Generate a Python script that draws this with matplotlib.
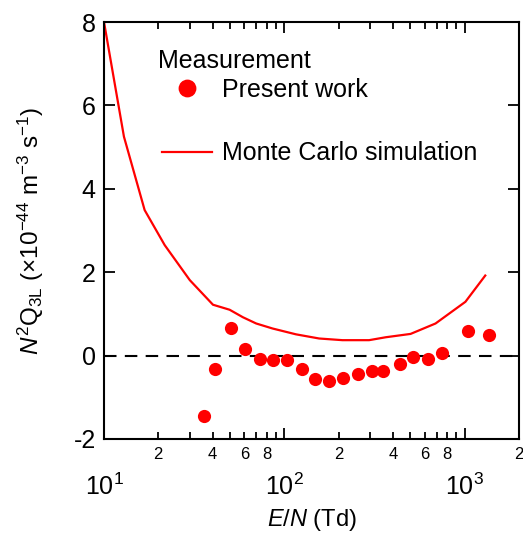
import numpy as np
import matplotlib
matplotlib.use("Agg")
import matplotlib.pyplot as plt
from matplotlib.ticker import FixedLocator, FixedFormatter, LogLocator, NullFormatter

plt.rcParams['font.family'] = ['Liberation Sans', 'DejaVu Sans']
plt.rcParams['mathtext.fontset'] = 'custom'
plt.rcParams['mathtext.rm'] = 'Liberation Sans'
plt.rcParams['mathtext.it'] = 'Liberation Sans:italic'
plt.rcParams['axes.unicode_minus'] = False

# measurement (present work)
meas_en = [35.8, 41.4, 50.3, 60.4, 73.0, 86.6, 104, 125, 148, 177, 211, 257,
           306, 354, 439, 518, 627, 746, 1047, 1358]
meas_q = [-1.44, -0.33, 0.67, 0.17, -0.08, -0.10, -0.10, -0.33, -0.55, -0.60,
          -0.54, -0.45, -0.37, -0.38, -0.21, -0.04, -0.09, 0.06, 0.58, 0.49]

# Monte Carlo simulation
mc_en = [10, 12.9, 16.8, 21.7, 29.9, 40.2, 49.7, 58.9, 69.8, 86, 116, 156,
         210, 295, 365, 501, 689, 1009, 1300]
mc_q = [8.0, 5.25, 3.49, 2.65, 1.81, 1.22, 1.10, 0.92, 0.77, 0.65, 0.51, 0.41,
        0.37, 0.37, 0.44, 0.52, 0.77, 1.29, 1.92]

minor_pos = [20, 40, 60, 80, 200, 400, 600, 800, 2000]
minor_lbl = ['2', '4', '6', '8', '2', '4', '6', '8', '2']

fig = plt.figure(figsize=(5.23, 5.38), dpi=100)
ax = fig.add_axes([104/523, 1 - 439/538, (519-104)/523, (439-22)/538])

ax.axhline(0, color='black', lw=1.5, dashes=(6, 4), zorder=1)
ax.plot(mc_en, mc_q, color='red', lw=1.6, label='Monte Carlo simulation', zorder=2)
ax.plot(meas_en, meas_q, 'o', color='red', ms=9.5, mec='none',
        label='Present work', zorder=3)

ax.set_xscale('log')
ax.set_xlim(10, 2000)
ax.set_ylim(-2, 8)
ax.set_yticks([-2, 0, 2, 4, 6, 8])

ax.xaxis.set_major_locator(LogLocator(base=10, numticks=10))
ax.xaxis.set_minor_locator(LogLocator(base=10, subs=np.arange(2, 10), numticks=20))
ax.xaxis.set_minor_formatter(NullFormatter())

for s in ax.spines.values():
    s.set_linewidth(1.5)

ax.tick_params(which='both', direction='in', top=True, right=True, width=1.3)
ax.tick_params(which='major', length=8, labelsize=18)
ax.tick_params(axis='y', which='major', pad=6)
ax.tick_params(axis='x', which='major', pad=25)
ax.tick_params(which='minor', length=5)

# labelled minor ticks (2,4,6,8)
sec = ax.secondary_xaxis('bottom')
sec.xaxis.set_major_locator(FixedLocator(minor_pos))
sec.xaxis.set_major_formatter(FixedFormatter(minor_lbl))
sec.xaxis.set_minor_locator(FixedLocator([]))
sec.tick_params(length=0, labelsize=12, pad=6)
sec.spines['bottom'].set_visible(False)

ax.set_xlabel(r'$\it{E/N}$ (Td)', fontsize=17, labelpad=5)
fig.text(31/523, 1 - 231/538,
         r'$\it{N}^{2}$Q$_{\mathrm{3L}}$ (×10$^{-44}$ m$^{-3}$ s$^{-1}$)',
         rotation=90, ha='center', va='center', fontsize=17.5)

ax.text((158-104)/415, (439-61)/417, 'Measurement', transform=ax.transAxes,
        fontsize=18, ha='left', va='center')

handles, labels = ax.get_legend_handles_labels()
leg = ax.legend(handles[::-1], labels[::-1], loc='upper left',
                bbox_to_anchor=((162-104)/415, (439-78)/417), frameon=False,
                fontsize=18, labelspacing=1.57, handlelength=2.0,
                handletextpad=0.42, markerscale=1.35, borderpad=0,
                borderaxespad=0)

fig.savefig('out.png', dpi=100)
